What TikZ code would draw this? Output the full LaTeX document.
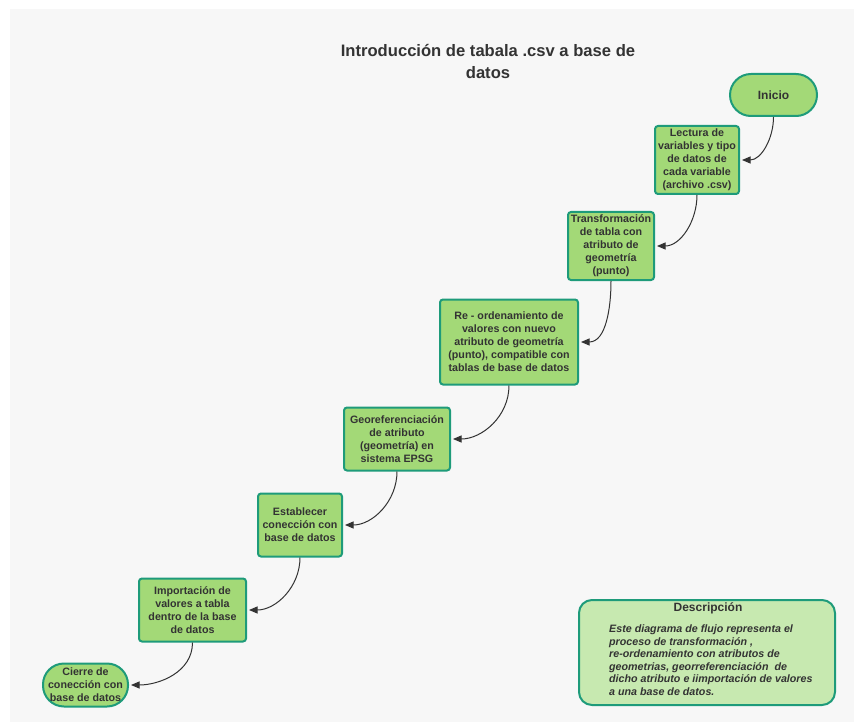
\documentclass[tikz,border=0pt]{standalone}
\usepackage{fontspec}
\setmainfont{Liberation Sans}
\usetikzlibrary{arrows.meta}
\definecolor{bgray}{HTML}{F7F7F7}
\definecolor{boxgreen}{HTML}{A3D977}
\definecolor{descgreen}{HTML}{C7E9B0}
\definecolor{border}{HTML}{1E9B7A}
\definecolor{txt}{HTML}{333333}
\tikzset{
  stepbox/.style={draw=border, line width=2pt, fill=boxgreen, rounded corners=3pt,
    align=center, text=txt, inner sep=0pt,
    font=\bfseries\fontsize{10.7}{13}\selectfont},
  termbox/.style={stepbox, rounded corners=#1},
  conn/.style={draw=txt, line width=1pt, -{Triangle[length=8.5pt,width=7pt]}, shorten >=2pt},
}
\begin{document}
\begin{tikzpicture}[x=1pt,y=-1pt]
\useasboundingbox (0,0) rectangle (854,722);
\fill[white] (0,0) rectangle (854,722);
\fill[bgray] (10,9) rectangle (854,722);

\node[text=txt, align=center, font=\bfseries\fontsize{16.6}{22}\selectfont] (title) at (488,61)
  {Introducción de tabala .csv a base de\\datos};

\node[termbox=21pt, minimum width=87pt, minimum height=42pt,
  font=\bfseries\fontsize{12}{14}\selectfont] (inicio) at (773.5,95) {Inicio};
\node[stepbox, minimum width=84pt, minimum height=68pt] (lectura) at (697,160)
  {Lectura de\\variables y tipo\\de datos de\\cada variable\\(archivo .csv)};
\node[stepbox, minimum width=86pt, minimum height=68pt] (transf) at (611,246)
  {Transformación\\de tabla con\\atributo de\\geometría\\(punto)};
\node[stepbox, minimum width=138pt, minimum height=85pt] (reord) at (509,342)
  {Re - ordenamiento de\\valores con nuevo\\atributo de geometría\\(punto), compatible con\\tablas de base de datos};
\node[stepbox, minimum width=106pt, minimum height=63pt] (georef) at (397,439)
  {Georeferenciación\\de atributo\\(geometría) en\\sistema EPSG};
\node[stepbox, minimum width=84pt, minimum height=63pt] (estab) at (300,525)
  {Establecer\\conección con\\base de datos};
\node[stepbox, minimum width=107pt, minimum height=63pt] (import) at (192.5,610)
  {Importación de\\valores a tabla\\dentro de la base\\de datos};
\node[termbox=21pt, minimum width=85pt, minimum height=43pt] (cierre) at (85.5,685)
  {Cierre de\\conección con\\base de datos};

\draw[conn] (inicio.south) to[out=-90,in=0] (lectura.east);
\draw[conn] (lectura.south) to[out=-90,in=0] (transf.east);
\draw[conn] (transf.south) to[out=-90,in=0] (reord.east);
\draw[conn] (reord.south) to[out=-90,in=0] (georef.east);
\draw[conn] (georef.south) to[out=-90,in=0] (estab.east);
\draw[conn] (estab.south) to[out=-90,in=0] (import.east);
\draw[conn] (import.south) to[out=-90,in=0] (cierre.east);

\node[draw=border, line width=2pt, fill=descgreen, rounded corners=13pt,
  minimum width=256pt, minimum height=105pt, inner sep=0pt] (desc) at (707,652.5) {};
\node[text=txt, font=\bfseries\fontsize{12}{14}\selectfont] (deschead) at (708,608) {Descripción};
\node[text=txt, align=left, anchor=north west, inner sep=0pt,
  font=\bfseries\itshape\fontsize{10.7}{12.5}\selectfont] (descbody) at (609,625)
  {Este diagrama de flujo representa el\\
   proceso de transformación ,\\
   re-ordenamiento con atributos de\\
   geometrias, georreferenciación\ \ de\\
   dicho atributo e iimportación de valores\\
   a una base de datos.};
\end{tikzpicture}
\end{document}
